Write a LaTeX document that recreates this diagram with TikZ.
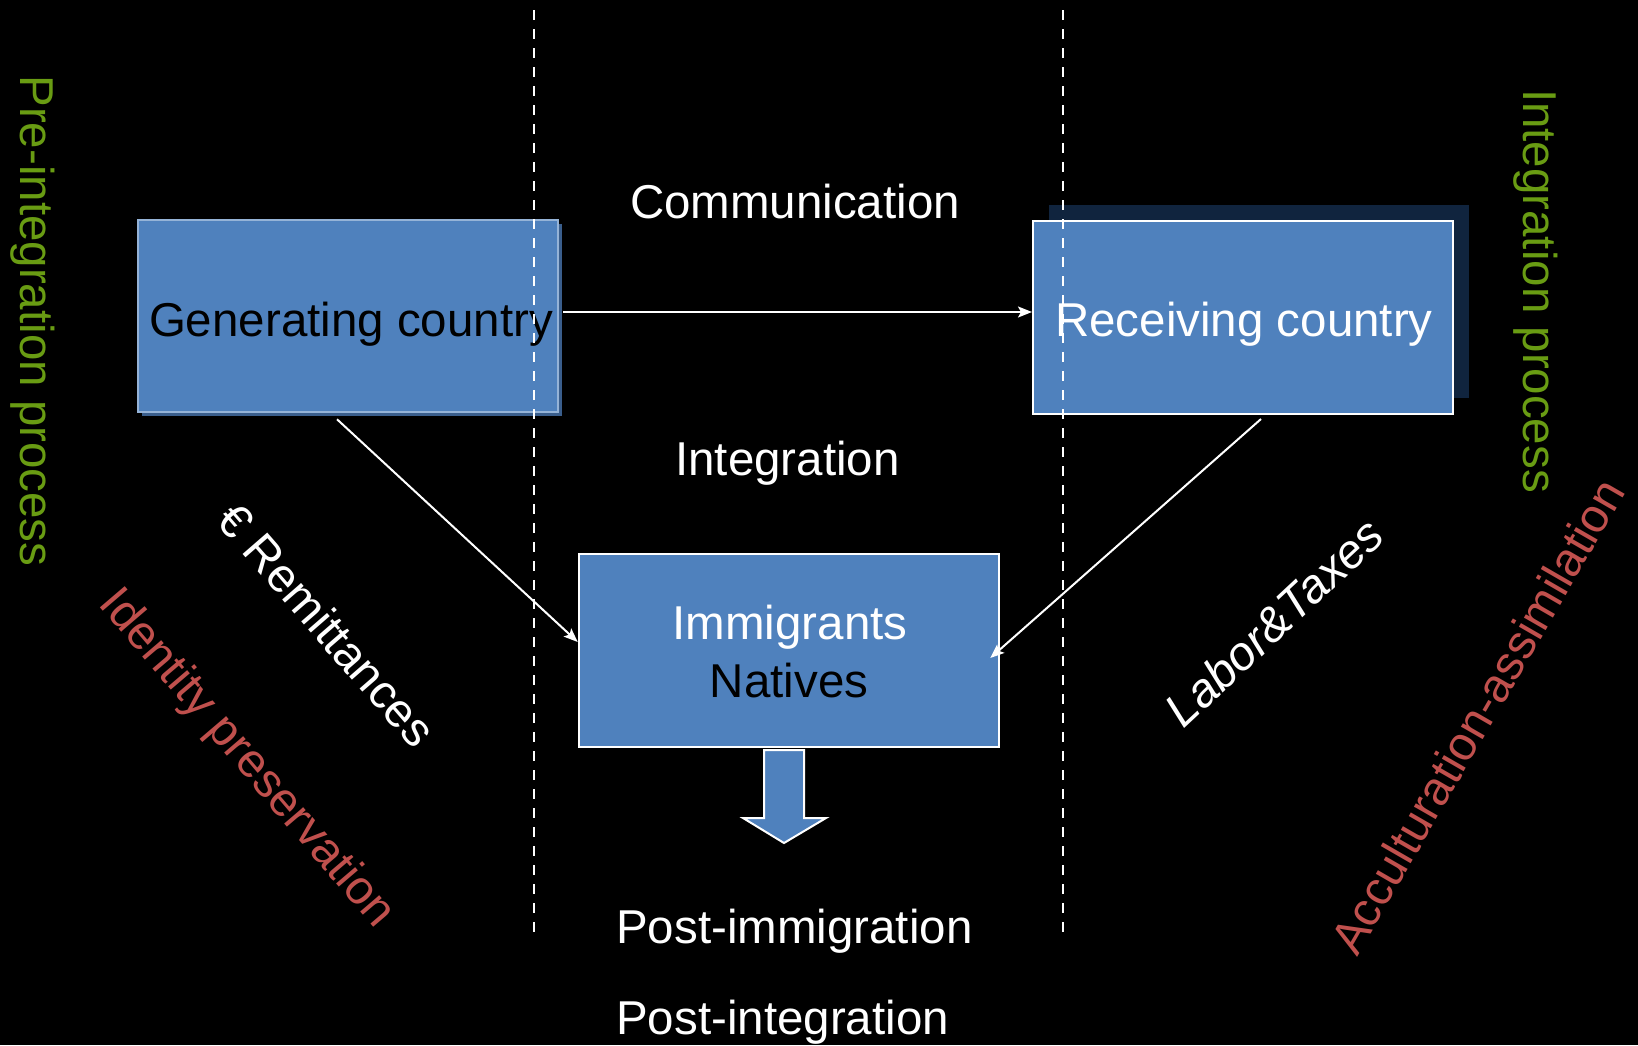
\documentclass[tikz,border=0pt]{standalone}
\usepackage{fontspec}
\setmainfont{Liberation Sans}
\usetikzlibrary{arrows.meta,shadows}
\definecolor{boxblue}{HTML}{4F81BD}
\definecolor{boxlight}{HTML}{95B3D7}
\definecolor{boxdark}{HTML}{3A5E8C}
\definecolor{navyshadow}{HTML}{10243E}
\definecolor{procgreen}{HTML}{699C13}
\definecolor{procred}{HTML}{C0504D}
\begin{document}
\begin{tikzpicture}[x=1pt,y=-1pt,
  txt/.style={font=\fontsize{47.5}{58}\selectfont, inner sep=0pt},
  gbox/.style={rectangle, fill=boxblue, draw=boxlight, line width=2.5pt,
    minimum width=420pt, minimum height=192pt, inner sep=0pt,
    general shadow={fill=boxdark, shadow xshift=4pt, shadow yshift=-4pt}},
  rbox/.style={rectangle, fill=boxblue, draw=white, line width=2pt,
    minimum width=420pt, minimum height=193pt, inner sep=0pt,
    general shadow={fill=navyshadow, shadow xshift=16pt, shadow yshift=16pt}},
  ibox/.style={rectangle, fill=boxblue, draw=white, line width=2.5pt,
    minimum width=420pt, minimum height=193pt, inner sep=0pt},
  conn/.style={draw=white, line width=2pt, -{Stealth[length=14pt,width=11pt,inset=3pt]}},
  divider/.style={draw=white, line width=2.2pt, dash pattern=on 10pt off 9pt},
  blockarrow/.style={fill=boxblue, draw=white, line width=2pt}
]
\fill[black] (0,0) rectangle (1638,1045);
\useasboundingbox (0,0) rectangle (1638,1045);

% boxes
\node[gbox] (gen) at (348,316) {};
\node[rbox] (recv) at (1243,317.5) {};
\node[ibox] (imm) at (789,650.5) {};

% box texts
\node[txt, text=black, anchor=base] (gentxt) at (351,336) {Generating country};
\node[txt, text=white, anchor=base] (recvtxt) at (1244,336) {Receiving country};
\node[txt, text=white, anchor=base] (immtxt) at (790,639) {Immigrants};
\node[txt, text=black, anchor=base] (nattxt) at (789,697) {Natives};

% dividers
\coordinate (d1t) at (534,10);
\coordinate (d1b) at (534,932);
\coordinate (d2t) at (1063,10);
\coordinate (d2b) at (1063,932);
\draw[divider] (d1t) -- (d1b);
\draw[divider] (d2t) -- (d2b);

% connectors
\draw[conn] ([xshift=4pt,yshift=4pt]gen.east) -- ([yshift=5.5pt]recv.west);
\draw[conn] ([xshift=-11pt,yshift=-6pt]gen.south) -- ([yshift=8.5pt]imm.west);
\draw[conn] ([xshift=18pt,yshift=-4pt]recv.south) -- ([xshift=-10pt,yshift=-7.5pt]imm.east);

% block arrow down
\draw[blockarrow] (764,750) -- (804,750) -- (804,818) -- (826,818) -- (784,843)
  -- (743,818) -- (764,818) -- cycle;

% labels
\node[txt, text=white, anchor=base] (comm) at (795,218) {Communication};
\node[txt, text=white, anchor=base] (integ) at (787.5,475) {Integration};
\node[txt, text=white, anchor=base west] (post1) at (616,943) {Post-immigration};
\node[txt, text=white, anchor=base west] (post2) at (616,1034) {Post-integration};

\node[txt, text=procgreen, rotate=-90] (pre) at (33,321) {Pre-integration process};
\node[txt, text=procgreen, rotate=-90] (intp) at (1536,291) {Integration process};
\node[txt, text=procred, rotate=-49.5] (ident) at (246,759) {Identity preservation};
\node[txt, text=white, rotate=-49] (remit) at (327,625) {€ Remittances};
\node[txt, text=white, rotate=43, font=\fontsize{47.5}{58}\selectfont\itshape] (labor) at (1274,622) {Labor\&Taxes};
\node[txt, text=procred, rotate=60] (accult) at (1477,716) {Acculturation-assimilation};
\end{tikzpicture}
\end{document}
